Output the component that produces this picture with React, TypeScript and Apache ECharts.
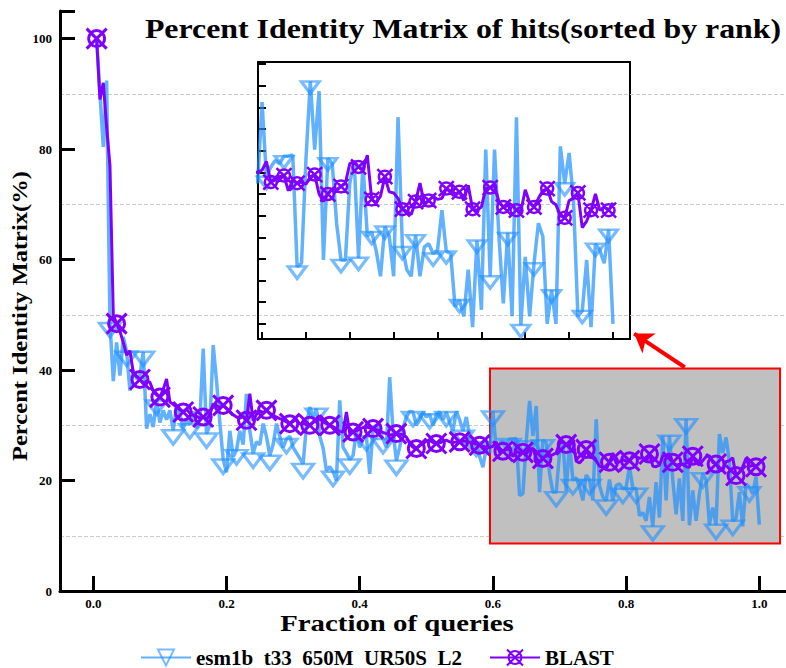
import React, { useEffect, useRef } from "react";
import * as echarts from "echarts";

const seriesNames = ["esm1b  t33  650M  UR50S  L2", "BLAST"];
const titleText = "Percent Identity Matrix of hits(sorted by rank)";
const xName = "Fraction of queries";
const yName = "Percent Identity Matrix(%)";

// esm1b series values, one per query fraction step (0.005 .. 1.0)
const esmValues = [
  100, 90, 80.4, 92.4, 48.5, 38.0, 45.0, 39.0, 46.0, 43.3,
  36.3, 40.0, 38.4, 39.0, 43.3, 29.4, 32.0, 29.7, 34.5, 30.5,
  32.7, 31.0, 32.7, 29.1, 33.3, 32.0, 29.4, 31.0, 30.2, 32.5,
  29.5, 31.0, 43.9, 28.5, 30.0, 44.5, 38.1, 30.5, 23.8, 21.5,
  29.0, 24.3, 25.5, 29.0, 26.5, 35.7, 29.0, 24.9, 27.0, 26.5,
  30.3, 28.0, 24.5, 26.5, 30.3, 28.0, 26.0, 27.5, 28.0, 26.0,
  25.0, 24.0, 23.0, 30.0, 33.3, 31.5, 33.0, 28.0, 25.9, 21.8,
  22.5, 21.6, 20.0, 34.5, 26.0, 25.0, 23.8, 24.5, 29.0, 26.0,
  27.5, 28.0, 21.2, 29.5, 30.0, 29.0, 27.5, 26.0, 38.7, 29.0,
  23.6, 26.0, 29.5, 31.5, 32.5, 32.4, 30.0, 31.0, 32.4, 31.5,
  32.0, 30.0, 32.0, 32.4, 31.0, 32.4, 30.5, 29.0, 32.5, 31.0,
  29.0, 31.5, 28.0, 25.5, 27.0, 24.3, 22.4, 26.0, 25.0, 32.5,
  25.6, 26.5, 27.1, 26.8, 27.5, 27.5, 27.6, 17.3, 17.6, 27.1,
  34.4, 28.1, 33.5, 17.9, 27.3, 26.8, 21.3, 17.9, 17.9, 25.0,
  27.1, 18.1, 26.8, 20.1, 20.5, 18.8, 16.4, 21.0, 20.1, 16.4,
  31.1, 19.1, 17.0, 16.4, 20.2, 16.4, 19.1, 19.4, 18.5, 18.8,
  22.5, 18.7, 18.5, 13.6, 14.2, 12.7, 17.0, 11.7, 19.7, 13.3,
  28.1, 16.4, 28.1, 20.1, 13.9, 20.4, 12.7, 31.1, 11.9, 18.2,
  12.7, 17.6, 21.3, 20.1, 12.0, 15.1, 12.0, 28.4, 25.0, 27.8,
  23.4, 12.7, 13.2, 17.9, 11.7, 19.4, 18.8, 17.6, 20.7, 12.0,
];

// BLAST series values
const blastValues = [
  100, 89, 92, 84, 77, 50, 48.4, 47.0, 45.0, 42.7,
  43.5, 39.5, 38.8, 38.3, 37.5, 38.0, 37.8, 36.2, 35.5, 35.1,
  36.5, 38.4, 34.2, 33.8, 33.3, 32.8, 32.4, 32.9, 32.2, 31.8,
  31.6, 31.3, 31.5, 31.0, 32.0, 33.9, 33.5, 33.2, 33.6, 33.1,
  32.5, 31.9, 31.5, 31.3, 31.6, 30.9, 35.7, 30.8, 32.0, 32.6,
  32.3, 32.7, 32.2, 31.8, 31.5, 31.2, 31.0, 30.6, 30.3, 30.7,
  31.0, 30.2, 30.4, 30.1, 30.0, 30.5, 30.9, 31.2, 30.6, 30.3,
  30.0, 29.7, 29.4, 28.9, 28.8, 32.4, 28.5, 28.8, 29.0, 29.3,
  29.6, 29.7, 29.5, 29.4, 29.2, 29.0, 28.7, 28.5, 28.3, 28.3,
  28.5, 28.4, 28.3, 27.9, 26.7, 26.0, 25.8, 26.3, 26.7, 27.1,
  27.3, 26.9, 26.7, 26.8, 27.1, 27.3, 27.0, 26.9, 27.0, 27.0,
  27.2, 27.1, 26.9, 26.8, 26.6, 26.4, 26.2, 26.0, 26.0, 26.2,
  27.0, 25.1, 25.3, 25.6, 25.7, 24.3, 25.3, 25.0, 25.1, 24.9,
  25.6, 25.8, 24.0, 23.3, 24.0, 24.5, 24.4, 24.7, 25.0, 26.8,
  27.0, 26.5, 26.2, 27.6, 23.5, 23.2, 23.8, 25.6, 24.2, 24.1,
  23.6, 22.6, 22.4, 22.1, 23.3, 25.0, 23.1, 23.4, 23.8, 23.5,
  23.6, 24.5, 24.3, 24.0, 24.2, 23.4, 24.8, 22.6, 22.5, 22.8,
  24.5, 24.6, 24.8, 23.3, 22.8, 22.9, 23.0, 22.5, 22.4, 24.4,
  23.2, 22.8, 23.6, 24.3, 24.5, 23.3, 23.0, 22.0, 21.8, 23.4,
  23.6, 24.1, 20.9, 21.5, 22.5, 24.0, 22.5, 22.8, 22.5, 23.2,
];

const xTicks = [0, 0.2, 0.4, 0.6, 0.8, 1.0];
const insetXTicks = [0.6, 0.65, 0.7, 0.75, 0.8, 0.85, 0.9, 0.95, 1.0];
const insetYTicks = [12, 14, 16, 18, 20, 22, 24, 26, 28, 30, 32, 34, 36];

const FONT = "'Liberation Serif', 'Times New Roman', serif";
const TRI = "path://M-10,0L10,0L0,14Z";
const CROSS_CIRCLE =
  "path://M-10,-10L10,10M10,-10L-10,10M0,-8A8,8,0,1,1,0,8A8,8,0,1,1,0,-8Z";
const ESM_LINE = "rgba(30,144,255,0.7)";
const ESM_MARK = "rgba(30,144,255,0.6)";
const BLAST_COLOR = "#8000ff";

function markerSet(start: number, step: number, count: number) {
  const s = new Set<number>();
  for (let m = 0; m < count; m++) s.add(Math.round(start + step * m));
  return s;
}

const xs = esmValues.map((_, i) => (i + 1) / esmValues.length);

function buildData(values: number[], marks: Set<number>, symbol: string, fromX = -1) {
  return values
    .map((v, i) => ({ value: [xs[i], v], symbol: marks.has(i + 1) ? symbol : "none" }))
    .filter((d) => d.value[0] >= fromX);
}

export default function App() {
  const ref = useRef<HTMLDivElement>(null);
  useEffect(() => {
    if (!ref.current) return;
    const chart = echarts.init(ref.current, null, { renderer: "svg" });

    const mainEsm = buildData(esmValues, markerSet(5, 4.8, 45), TRI);
    const mainBlast = buildData(blastValues, markerSet(1, 6.4, 35), CROSS_CIRCLE);
    const insetEsm = buildData(esmValues, markerSet(121.2, 3.4, 30), TRI, 0.585);
    const insetBlast = buildData(blastValues, markerSet(121.5, 3.35, 30), CROSS_CIRCLE, 0.585);

    const tickLabel = {
      fontFamily: FONT,
      fontWeight: "bold" as const,
      fontSize: 13,
      color: "#000",
    };

    chart.setOption({
      animation: false,
      backgroundColor: "#fff",
      grid: [
        { left: 60, right: 0, top: 11, bottom: 77, outerBoundsMode: "none" },
        {
          left: 258,
          top: 62,
          width: 372,
          height: 277,
          show: true,
          borderColor: "#000",
          borderWidth: 2,
          backgroundColor: "rgba(0,0,0,0)",
          outerBoundsMode: "none",
        },
      ],
      xAxis: [
        {
          gridIndex: 0,
          type: "value",
          min: -0.05,
          max: 1.04,
          axisLine: { show: true, onZero: false, lineStyle: { color: "#000", width: 3 } },
          axisTick: {
            show: true,
            inside: true,
            length: 15,
            lineStyle: { color: "#000", width: 3 },
            customValues: xTicks,
          },
          axisLabel: {
            ...tickLabel,
            margin: 6,
            customValues: xTicks,
            formatter: (v: number) => v.toFixed(1),
          },
          splitLine: { show: false },
        },
        {
          gridIndex: 1,
          type: "value",
          min: 0.5954,
          max: 1.0194,
          axisLine: { show: true, onZero: false, lineStyle: { color: "#000", width: 2 } },
          axisTick: {
            show: true,
            inside: true,
            length: 7,
            lineStyle: { color: "#000", width: 2 },
            customValues: insetXTicks,
          },
          axisLabel: { show: false },
          splitLine: { show: false },
        },
      ],
      yAxis: [
        {
          gridIndex: 0,
          type: "value",
          min: 0,
          max: 105,
          interval: 10,
          axisLine: { show: false },
          axisTick: { show: false },
          axisLabel: { show: false },
          splitLine: {
            show: true,
            showMinLine: false,
            showMaxLine: false,
            lineStyle: { color: ["#cccccc", "rgba(0,0,0,0)"], type: "dashed", width: 1 },
          },
        },
        {
          gridIndex: 1,
          type: "value",
          min: 10.6,
          max: 36.2,
          axisLine: { show: true, onZero: false, lineStyle: { color: "#000", width: 2 } },
          axisTick: {
            show: true,
            inside: true,
            length: 8,
            lineStyle: { color: "#000", width: 2 },
            customValues: insetYTicks,
          },
          axisLabel: { show: false },
          splitLine: { show: false },
        },
        {
          gridIndex: 0,
          type: "value",
          position: "left",
          min: 0,
          max: 105,
          interval: 20,
          axisLine: { show: true, onZero: false, lineStyle: { color: "#000", width: 3 } },
          axisTick: {
            show: true,
            inside: true,
            length: 15,
            lineStyle: { color: "#000", width: 3 },
          },
          axisLabel: {
            ...tickLabel,
            margin: 8,
            formatter: (v: number) => (v % 20 === 0 ? String(v) : ""),
          },
          splitLine: { show: false },
        },
      ],
      legend: {
        data: seriesNames,
        left: 140,
        top: 647,
        padding: 0,
        itemWidth: 50,
        itemHeight: 20,
        itemGap: 27,
        textStyle: { fontFamily: FONT, fontWeight: "bold", fontSize: 21, color: "#000" },
      },
      graphic: [
        {
          type: "text",
          x: 463,
          y: 29,
          scaleX: 1.18,
          style: {
            text: titleText,
            font: `bold 27px ${FONT}`,
            fill: "#000",
            align: "center",
            verticalAlign: "middle",
          },
        },
        {
          type: "text",
          x: 397,
          y: 623,
          scaleX: 1.2,
          style: {
            text: xName,
            font: `bold 24px ${FONT}`,
            fill: "#000",
            align: "center",
            verticalAlign: "middle",
          },
        },
        {
          type: "text",
          x: 20,
          y: 316,
          rotation: Math.PI / 2,
          scaleX: 1.17,
          style: {
            text: yName,
            font: `bold 21px ${FONT}`,
            fill: "#000",
            align: "center",
            verticalAlign: "middle",
          },
        },
      ],
      series: [
        {
          name: seriesNames[0],
          type: "line",
          xAxisIndex: 0,
          yAxisIndex: 0,
          data: mainEsm,
          symbol: TRI,
          symbolSize: [21, 14],
          symbolOffset: [0, 7],
          showAllSymbol: true,
          lineStyle: { color: ESM_LINE, width: 3.5 },
          itemStyle: { color: "rgba(0,0,0,0)", borderColor: ESM_MARK, borderWidth: 3 },
          emphasis: { disabled: true },
          z: 2,
          markArea: {
            silent: true,
            itemStyle: { color: "#c0c0c0", borderColor: "#ff0000", borderWidth: 2 },
            data: [[{ coord: [0.5956, 40.3] }, { coord: [1.031, 8.6] }]],
          },
        },
        {
          name: seriesNames[1],
          type: "line",
          xAxisIndex: 0,
          yAxisIndex: 0,
          data: mainBlast,
          symbol: CROSS_CIRCLE,
          symbolSize: 20,
          showAllSymbol: true,
          lineStyle: { color: BLAST_COLOR, width: 3 },
          itemStyle: { color: "rgba(0,0,0,0)", borderColor: BLAST_COLOR, borderWidth: 3 },
          emphasis: { disabled: true },
          z: 3,
          markLine: {
            silent: true,
            symbol: ["none", "arrow"],
            symbolSize: 18,
            label: { show: false },
            lineStyle: { color: "#ff0000", width: 4, type: "solid" },
            itemStyle: { color: "#ff0000" },
            data: [[{ coord: [0.888, 40.5] }, { coord: [0.812, 46.6] }]],
          },
        },
        {
          name: seriesNames[0],
          type: "line",
          xAxisIndex: 1,
          yAxisIndex: 1,
          data: insetEsm,
          clip: true,
          symbol: TRI,
          symbolSize: [18, 12],
          symbolOffset: [0, 6],
          showAllSymbol: true,
          lineStyle: { color: ESM_LINE, width: 3.5 },
          itemStyle: { color: "rgba(0,0,0,0)", borderColor: ESM_MARK, borderWidth: 3 },
          emphasis: { disabled: true },
          z: 2,
        },
        {
          name: seriesNames[1],
          type: "line",
          xAxisIndex: 1,
          yAxisIndex: 1,
          data: insetBlast,
          clip: true,
          symbol: CROSS_CIRCLE,
          symbolSize: 15,
          showAllSymbol: true,
          lineStyle: { color: BLAST_COLOR, width: 3 },
          itemStyle: { color: "rgba(0,0,0,0)", borderColor: BLAST_COLOR, borderWidth: 2.5 },
          emphasis: { disabled: true },
          z: 3,
        },
      ],
    });
    return () => chart.dispose();
  }, []);
  return (
    <div
      ref={ref}
      style={{ position: "fixed", left: 0, top: 0, width: 786, height: 668 }}
    />
  );
}
